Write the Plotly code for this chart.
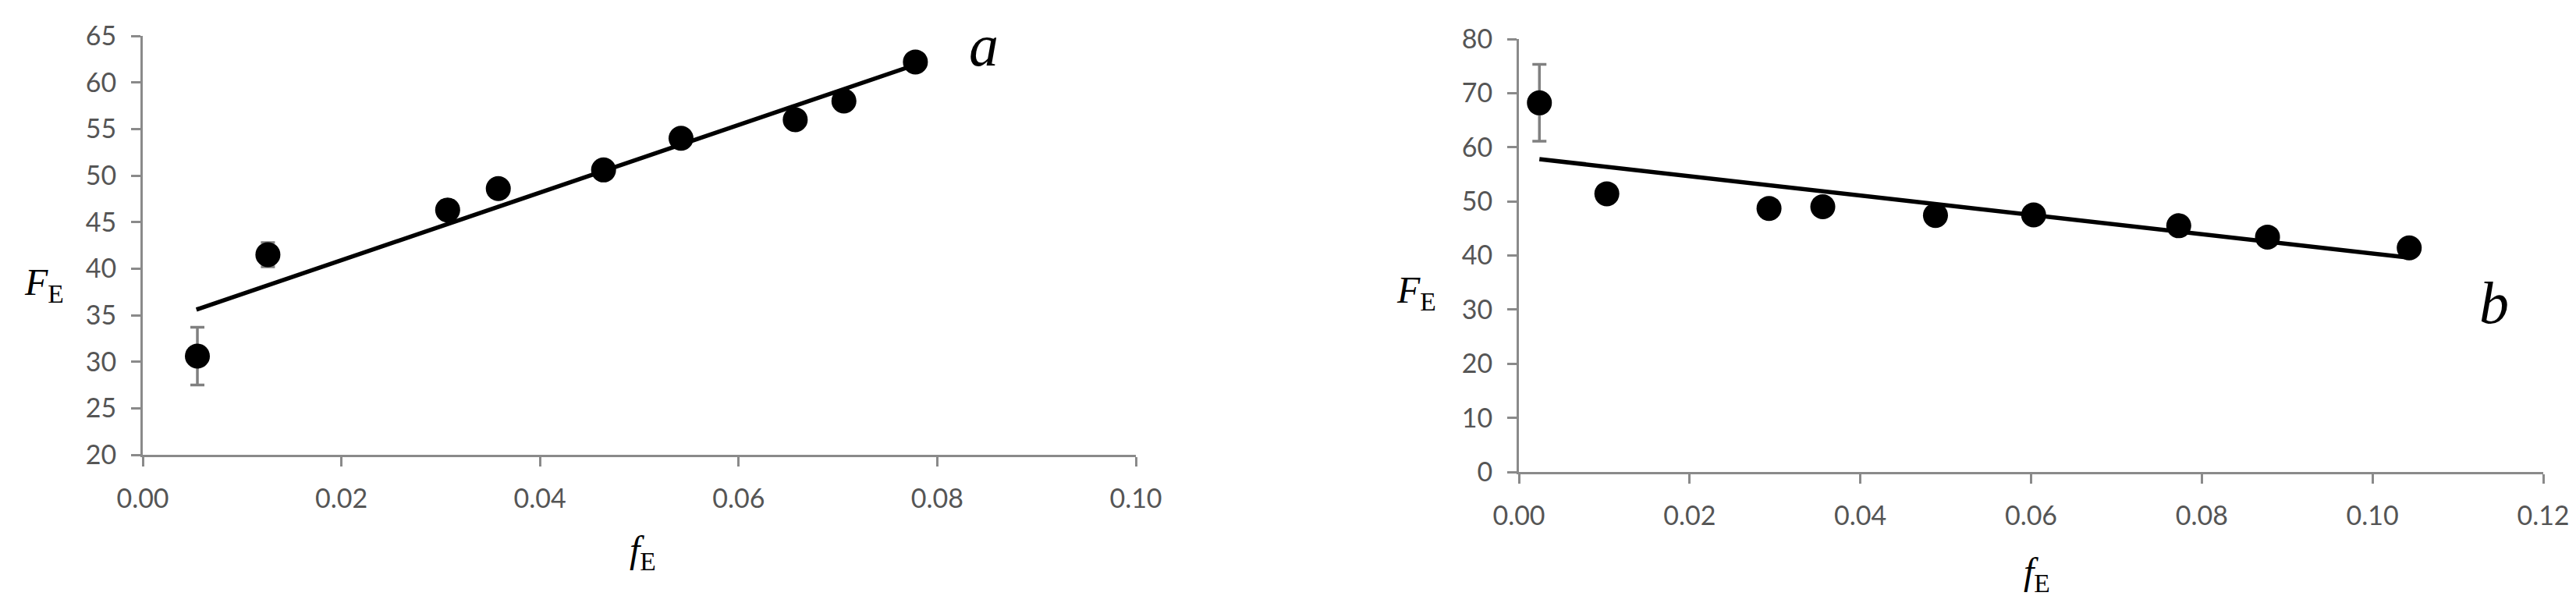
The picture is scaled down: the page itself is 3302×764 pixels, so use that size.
import plotly.graph_objects as go

W, H = 3302, 764

# panel a
a_x = [0.0055, 0.0126, 0.0307, 0.0358, 0.0464, 0.0542, 0.0657, 0.0706, 0.0778]
a_y = [30.6, 41.5, 46.3, 48.6, 50.6, 54.0, 56.0, 58.0, 62.2]
a_err = [3.1, 1.3, 0, 0, 0, 0, 0, 0, 0]
a_fit_x = [0.0054, 0.0778]
a_fit_y = [35.6, 61.9]
a_xticks = [0.00, 0.02, 0.04, 0.06, 0.08, 0.10]
a_yticks = [20, 25, 30, 35, 40, 45, 50, 55, 60, 65]

# panel b
b_x = [0.0024, 0.0103, 0.0293, 0.0356, 0.0488, 0.0603, 0.0773, 0.0877, 0.1043]
b_y = [68.2, 51.4, 48.7, 49.0, 47.4, 47.5, 45.5, 43.4, 41.4]
b_err = [7.1, 0, 0, 0, 0, 0, 0, 0, 0]
b_fit_x = [0.0024, 0.1043]
b_fit_y = [57.8, 39.6]
b_xticks = [0.00, 0.02, 0.04, 0.06, 0.08, 0.10, 0.12]
b_yticks = [0, 10, 20, 30, 40, 50, 60, 70, 80]

AXIS_GRAY = "#8a8a8a"
TICK_TEXT = "#555555"
ERR_GRAY = "#808080"
SERIF = "Liberation Serif"


def px_x(p):
    return p / W


def px_y(p):
    return 1 - p / H


fig = go.Figure()

for xs, ys, errs, fx, fy, xa, ya in [
    (a_x, a_y, a_err, a_fit_x, a_fit_y, "x", "y"),
    (b_x, b_y, b_err, b_fit_x, b_fit_y, "x2", "y2"),
]:
    fig.add_trace(go.Scatter(
        x=fx, y=fy, mode="lines", xaxis=xa, yaxis=ya,
        line=dict(color="black", width=5.5), showlegend=False,
    ))
    fig.add_trace(go.Scatter(
        x=xs, y=ys, mode="markers", xaxis=xa, yaxis=ya,
        marker=dict(color="black", size=32),
        error_y=dict(type="data", array=errs, visible=True,
                     color=ERR_GRAY, thickness=3.5, width=9),
        showlegend=False,
    ))

axis_common = dict(
    showline=True, linecolor=AXIS_GRAY, linewidth=3,
    ticks="outside", tickcolor=AXIS_GRAY, tickwidth=3, ticklen=12,
    showgrid=False, zeroline=False, automargin=False,
    tickfont=dict(family="Lato", size=34, color=TICK_TEXT),
)

fig.update_layout(
    width=W, height=H,
    margin=dict(l=0, r=0, t=0, b=0, pad=0, autoexpand=False),
    paper_bgcolor="white", plot_bgcolor="white",
    xaxis=dict(axis_common, domain=[px_x(175), px_x(1448)], range=[0, 0.10],
               tickvals=a_xticks, tickformat=".2f", anchor="y",
               ticklabelstandoff=12),
    yaxis=dict(axis_common, domain=[px_y(575), px_y(38)], range=[20, 65],
               tickvals=a_yticks, anchor="x", ticklabelstandoff=12),
    xaxis2=dict(axis_common, domain=[px_x(1939), px_x(3252)], range=[0, 0.12],
                tickvals=b_xticks, tickformat=".2f", anchor="y2",
                ticklabelstandoff=12),
    yaxis2=dict(axis_common, domain=[px_y(597), px_y(42)], range=[0, 80],
                tickvals=b_yticks, anchor="x2", ticklabelstandoff=12),
)

labels = [
    ("<i>F</i><sub>E</sub>", 48, 357, 48),
    ("<i>f</i><sub>E</sub>", 816, 700, 48),
    ("<i>F</i><sub>E</sub>", 1807, 367, 48),
    ("<i>f</i><sub>E</sub>", 2603, 728, 48),
    ("<i>a</i>", 1253, 50, 76),
    ("<i>b</i>", 3189, 380, 76),
]
for text, lx, ly, size in labels:
    fig.add_annotation(
        text=text, x=px_x(lx), y=px_y(ly), xref="paper", yref="paper",
        xanchor="center", yanchor="middle", showarrow=False,
        font=dict(family=SERIF, size=size, color="black"),
    )

fig.write_html("out.html")
